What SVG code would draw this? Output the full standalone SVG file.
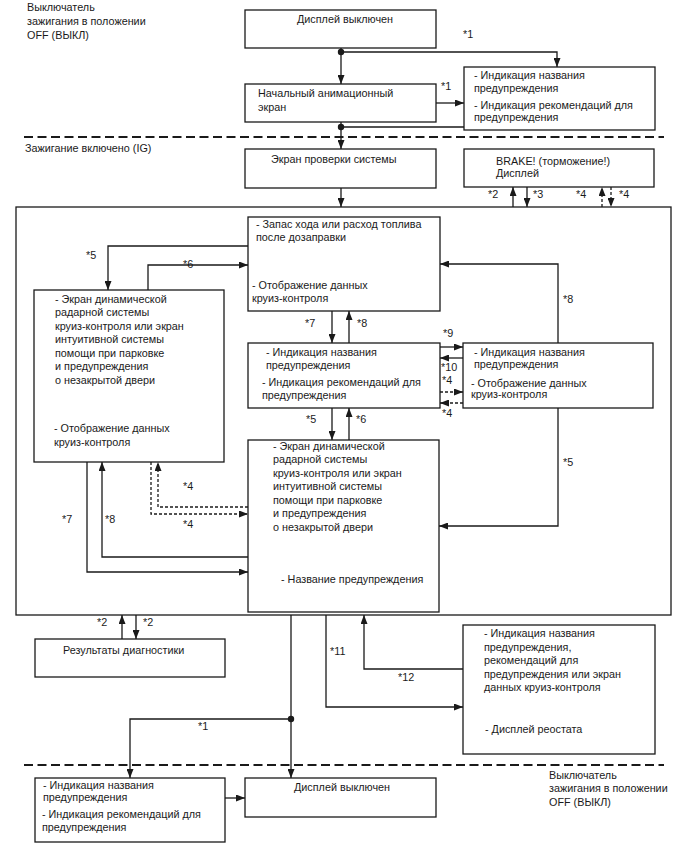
<svg xmlns="http://www.w3.org/2000/svg" width="688" height="852" viewBox="0 0 688 852">
<defs>
<marker id="ah" markerWidth="9" markerHeight="7" refX="9" refY="3.5" orient="auto" markerUnits="userSpaceOnUse"><path d="M0,0 L9,3.5 L0,7 z" fill="#1a1a1a"/></marker>
<style>
text{font-family:"Liberation Sans",Arial,sans-serif;font-size:10.8px;fill:#1a1a1a}
.box{fill:#fff;stroke:#1a1a1a;stroke-width:1.3}
.ln{fill:none;stroke:#1a1a1a;stroke-width:1.3}
.ar{fill:none;stroke:#1a1a1a;stroke-width:1.3;marker-end:url(#ah)}
.da{fill:none;stroke:#1a1a1a;stroke-width:1.3;stroke-dasharray:3,2;marker-end:url(#ah)}
.dl{fill:none;stroke:#1a1a1a;stroke-width:2;stroke-dasharray:9,4.5}
.gl{fill:none;stroke:#444;stroke-width:1.5}
</style>
</defs>
<rect width="688" height="852" fill="#fff"/>

<g id="labels">
<text x="27" y="11">Выключатель</text>
<text x="27" y="25">зажигания в положении</text>
<text x="27" y="39">OFF (ВЫКЛ)</text>
<text x="25" y="152">Зажигание включено (IG)</text>
<text x="549" y="779">Выключатель</text>
<text x="549" y="792">зажигания в положении</text>
<text x="549" y="806">OFF (ВЫКЛ)</text>
</g>

<g id="dividers">
<line class="dl" x1="24" y1="137" x2="664" y2="137"/>
<line class="dl" x1="24" y1="765" x2="664" y2="765"/>
</g>

<g id="ig-frame"><rect class="box" x="16" y="207" width="655" height="408" fill="none"/></g>

<g id="n-off-top"><rect class="box" x="245" y="10" width="191" height="38"/><text x="297" y="23">Дисплей выключен</text></g>
<g id="n-anim"><rect class="box" x="245" y="84" width="191" height="38"/><text x="258" y="97">Начальный анимационный</text><text x="258" y="111">экран</text></g>
<g id="n-warn-top"><rect class="box" x="464" y="67" width="191" height="63"/><text x="474" y="79">- Индикация названия</text><text x="474" y="92">предупреждения</text><text x="474" y="109">- Индикация рекомендаций для</text><text x="474" y="121">предупреждения</text></g>
<g id="n-check"><rect class="box" x="245" y="149" width="191" height="39"/><text x="271" y="163">Экран проверки системы</text></g>
<g id="n-brake"><rect class="box" x="464" y="149" width="190" height="38"/><text x="496" y="165">BRAKE! (торможение!)</text><text x="496" y="177">Дисплей</text></g>

<g id="n-range"><rect class="box" x="248" y="217" width="192" height="94"/><text x="256" y="228">- Запас хода или расход топлива</text><text x="256" y="241">после дозаправки</text><text x="252" y="289">- Отображение данных</text><text x="252" y="302">круиз-контроля</text></g>
<g id="n-left"><rect class="box" x="34" y="290" width="190" height="172"/>
<text x="55" y="302.5">- Экран динамической</text><text x="55" y="316">радарной системы</text><text x="55" y="329.5">круиз-контроля или экран</text><text x="55" y="343">интуитивной системы</text><text x="55" y="356.5">помощи при парковке</text><text x="55" y="370">и предупреждения</text><text x="55" y="383.5">о незакрытой двери</text>
<text x="54" y="432">- Отображение данных</text><text x="54" y="446">круиз-контроля</text></g>
<g id="n-mid"><rect class="box" x="248" y="343" width="192" height="65"/><text x="266" y="356">- Индикация названия</text><text x="266" y="369">предупреждения</text><text x="262" y="386">- Индикация рекомендаций для</text><text x="262" y="399">предупреждения</text></g>
<g id="n-right"><rect class="box" x="463" y="343" width="190" height="65"/><text x="474" y="356">- Индикация названия</text><text x="474" y="368">предупреждения</text><text x="471" y="387">- Отображение данных</text><text x="471" y="398">круиз-контроля</text></g>
<g id="n-bottom"><rect class="box" x="248" y="440" width="191" height="172"/>
<text x="273" y="449.5">- Экран динамической</text><text x="273" y="463">радарной системы</text><text x="273" y="476.5">круиз-контроля или экран</text><text x="273" y="490">интуитивной системы</text><text x="273" y="503.5">помощи при парковке</text><text x="273" y="517">и предупреждения</text><text x="273" y="530.5">о незакрытой двери</text>
<text x="281" y="583">- Название предупреждения</text></g>

<g id="n-diag"><rect class="box" x="35" y="639" width="190" height="38"/><text x="63" y="654">Результаты диагностики</text></g>
<g id="n-rheo"><rect class="box" x="463" y="625" width="192" height="129"/><text x="484" y="637">- Индикация названия</text><text x="484" y="650.5">предупреждения,</text><text x="484" y="664">рекомендаций для</text><text x="484" y="677.5">предупреждения или экран</text><text x="484" y="691">данных круиз-контроля</text><text x="485" y="733">- Дисплей реостата</text></g>
<g id="n-warn-bot"><rect class="box" x="35" y="778" width="190" height="64"/><text x="43" y="789">- Индикация названия</text><text x="43" y="801">предупреждения</text><text x="42" y="818">- Индикация рекомендаций для</text><text x="42" y="831">предупреждения</text></g>
<g id="n-off-bot"><rect class="box" x="245" y="778" width="191" height="39"/><text x="294" y="791">Дисплей выключен</text></g>

<g id="connectors">
<path class="ar" d="M341,48 V84"/>
<path class="ar" d="M341,52 H557 V67"/>
<path class="ar" d="M436,103 H464"/>
<path class="ln" d="M464,127 H341 M341,122 V128"/>
<path class="ar" d="M341,128 V149"/>
<path class="ar" d="M341,188 V207"/>
<path class="ar" d="M513,207 V187"/>
<path class="ar" d="M527,187 V207"/>
<path class="da" d="M602,207 V187"/>
<path class="da" d="M611,187 V207"/>
<path class="ar" d="M248,246 H108 V290"/>
<path class="ar" d="M148,290 V265 H248"/>
<path class="ar" d="M332,311 V343"/>
<path class="ar" d="M349,343 V311"/>
<path class="ar" d="M332,408 V440"/>
<path class="ar" d="M349,440 V408"/>
<path class="ar" d="M440,347 H463"/>
<path class="ar" d="M463,358 H440"/>
<path class="da" d="M440,392 H463"/>
<path class="da" d="M463,403 H440"/>
<path class="ar" d="M558,343 V264 H440"/>
<path class="ar" d="M558,408 V526 H439"/>
<path class="da" d="M151,462 V514 H248"/>
<path class="da" d="M248,507 H158 V462"/>
<path class="ar" d="M248,557 H102 V462"/>
<path class="ar" d="M87,462 V572 H248"/>
<path class="ar" d="M122,639 V615"/>
<path class="ar" d="M136,615 V639"/>
<path class="ar" d="M291,615 V778"/>
<path class="ar" d="M291,719 H130 V778"/>
<path class="ar" d="M326,615 V707 H463"/>
<path class="ar" d="M463,669 H364 V615"/>
<path class="ar" d="M225,798 H245"/>
<circle cx="341" cy="52" r="3.2" fill="#1a1a1a"/>
<circle cx="341" cy="127" r="3.2" fill="#1a1a1a"/>
<circle cx="291" cy="719" r="3.2" fill="#1a1a1a"/>
</g>

<g id="connector-labels">
<text x="463" y="38">*1</text>
<text x="441" y="90">*1</text>
<text x="488" y="198">*2</text>
<text x="533" y="198">*3</text>
<text x="576" y="198">*4</text>
<text x="619" y="198">*4</text>
<text x="86" y="259">*5</text>
<text x="183" y="268">*6</text>
<text x="305" y="327">*7</text>
<text x="357" y="327">*8</text>
<text x="306" y="423">*5</text>
<text x="356" y="423">*6</text>
<text x="443" y="337">*9</text>
<text x="441" y="371">*10</text>
<text x="442" y="384">*4</text>
<text x="442" y="417">*4</text>
<text x="563" y="303">*8</text>
<text x="563" y="466">*5</text>
<text x="183" y="490">*4</text>
<text x="183" y="528">*4</text>
<text x="62" y="523">*7</text>
<text x="105" y="523">*8</text>
<text x="97" y="626">*2</text>
<text x="143" y="626">*2</text>
<text x="198" y="730">*1</text>
<text x="330" y="655">*11</text>
<text x="398" y="681">*12</text>
</g>
</svg>
